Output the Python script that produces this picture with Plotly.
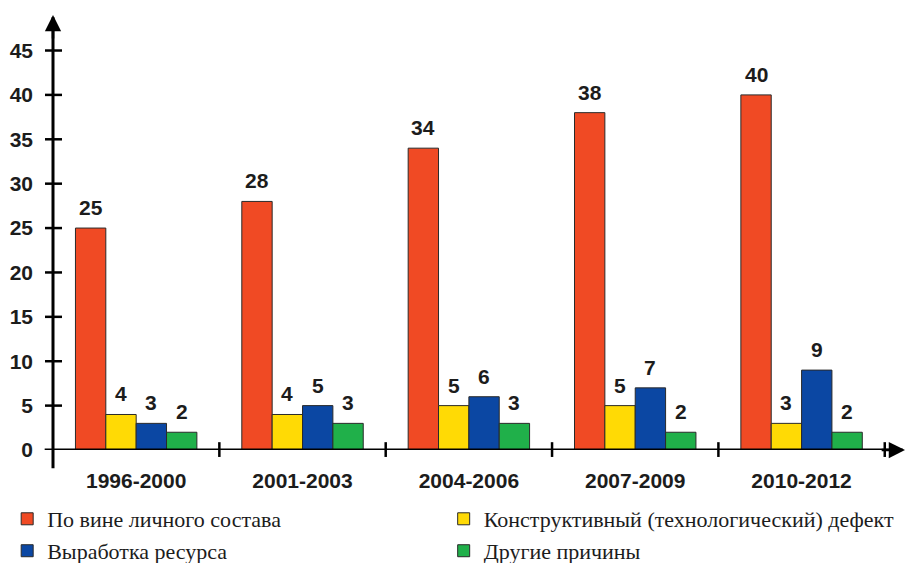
import plotly.graph_objects as go

categories = ["1996-2000", "2001-2003", "2004-2006", "2007-2009", "2010-2012"]
personnel = [25, 28, 34, 38, 40]
design_defect = [4, 4, 5, 5, 3]
resource = [3, 5, 6, 7, 9]
other = [2, 3, 3, 2, 2]
series_names = [
    "По вине личного состава",
    "Конструктивный (технологический) дефект",
    "Выработка ресурса",
    "Другие причины",
]
colors = ["#F04A24", "#FFDA05", "#0B47A3", "#20B04A"]
y_ticks = [0, 5, 10, 15, 20, 25, 30, 35, 40, 45]

SANS = "Liberation Sans"
SERIF = "Liberation Serif"
TXT = "#1c1c1c"
BARGAP = 0.27

series = [personnel, design_defect, resource, other]
legend_ids = ["legend", "legend2", "legend3", "legend4"]

fig = go.Figure()
for vals, name, col, lg in zip(series, series_names, colors, legend_ids):
    fig.add_trace(go.Bar(
        x=categories, y=vals, name=name,
        marker=dict(color=col, line=dict(color="#2a2a2a", width=1)),
        legend=lg,
    ))

# value labels above bars, placed via axis coordinates of each grouped bar
n = len(series)
w = (1 - BARGAP) / n
annotations = []
for j, vals in enumerate(series):
    for i, v in enumerate(vals):
        annotations.append(dict(
            x=i + (j - (n - 1) / 2) * w, y=v, xref="x", yref="y",
            text=str(v), showarrow=False, yanchor="bottom", yshift=7,
            font=dict(family=SANS, size=21, color=TXT, weight="bold"),
        ))

shapes = []
shapes.append(dict(type="line", xref="paper", yref="paper", x0=0, x1=0,
                   y0=-0.042, y1=0.995, line=dict(color="black", width=3)))
shapes.append(dict(type="line", xref="paper", yref="y", x0=-0.01, x1=1.02,
                   y0=0, y1=0, line=dict(color="black", width=3)))
for t in y_ticks[1:]:
    shapes.append(dict(type="line", xref="paper", yref="y", x0=-0.0096, x1=0.0108,
                       y0=t, y1=t, line=dict(color="black", width=2.5)))
for i in range(1, len(categories) + 1):
    shapes.append(dict(type="line", xref="x", yref="paper", x0=i - 0.5, x1=i - 0.5,
                       y0=-0.016, y1=0.018, line=dict(color="black", width=2.5)))

annotations += [
    dict(x=0, y=1.0, xref="paper", yref="paper", text="", showarrow=True,
         ax=0, ay=25, arrowhead=2, arrowsize=1.3, arrowwidth=2.5, arrowcolor="black"),
    dict(x=1.023, y=0, xref="paper", yref="y", text="", showarrow=True,
         ax=-25, ay=0, arrowhead=2, arrowsize=1.3, arrowwidth=2.5, arrowcolor="black"),
]

leg_font = dict(family=SERIF, size=22, color=TXT)
leg_pos = [(-0.055, -0.1586), (0.469, -0.1586), (-0.055, -0.232), (0.469, -0.232)]
leg_layout = {}
for lg, (lx, ly) in zip(legend_ids, leg_pos):
    leg_layout[lg] = dict(x=lx, y=ly, xanchor="left", yanchor="middle",
                          font=leg_font, bgcolor="rgba(0,0,0,0)")

fig.update_layout(
    width=906, height=563,
    font=dict(family=SERIF, size=22, color=TXT),
    margin=dict(l=53, r=20, t=15, b=113, autoexpand=False),
    paper_bgcolor="white", plot_bgcolor="white",
    barmode="group", bargap=BARGAP, bargroupgap=0,
    shapes=shapes, annotations=annotations,
    xaxis=dict(showline=False, showgrid=False, ticks="", zeroline=False,
               tickfont=dict(family=SANS, size=21, color=TXT, weight="bold"),
               ticklabelstandoff=16),
    yaxis=dict(range=[0, 49], tickvals=y_ticks, showline=False, showgrid=False,
               zeroline=False, ticks="",
               tickfont=dict(family=SANS, size=21, color=TXT, weight="bold"),
               ticklabelstandoff=19),
    showlegend=True,
    **leg_layout,
)

fig.write_html("out.html")
